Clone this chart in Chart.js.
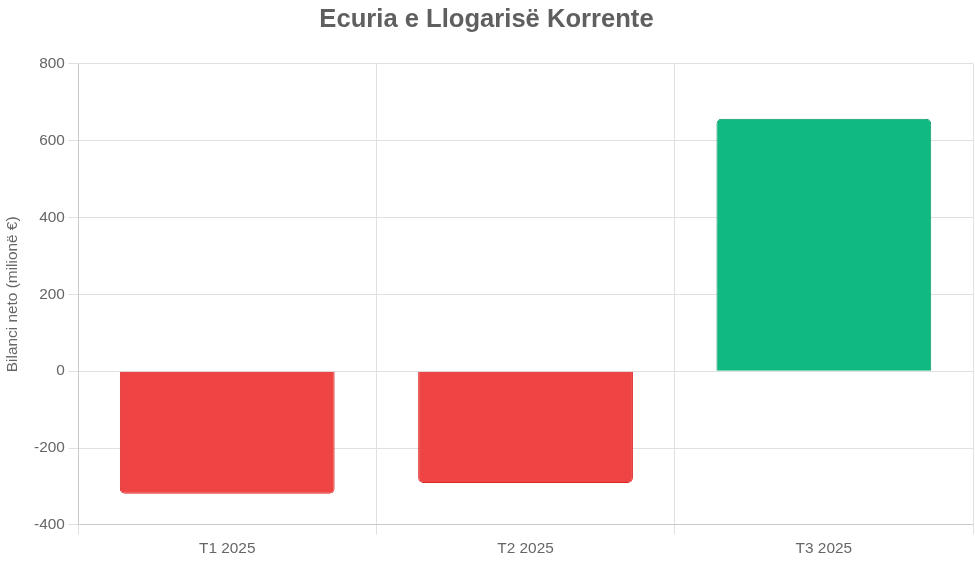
<!DOCTYPE html>
<html>
<head>
<meta charset="utf-8">
<script src="https://cdn.jsdelivr.net/npm/chart.js@4/dist/chart.umd.min.js"></script>
<style>
  html, body { margin: 0; padding: 0; background: #fff; }
  #wrap { width: 975px; height: 563px; }
</style>
</head>
<body>
<div id="wrap"><canvas id="chart"></canvas></div>
<script>
// quarters and net current account balance (million €)
var quarters = ['T1 2025', 'T2 2025', 'T3 2025'];
var balance = [-319, -291, 657];

var barColors = balance.map(function(v) { return v < 0 ? '#ef4444' : '#10b981'; });
var borderColors = balance.map(function(v) { return v < 0 ? '#dc2626' : '#059669'; });

Chart.defaults.font.family = '"Liberation Sans", Arial, sans-serif';

var ctx = document.getElementById('chart').getContext('2d');
var chart = new Chart(ctx, {
  type: 'bar',
  data: {
    labels: quarters,
    datasets: [{
      label: 'Bilanci neto',
      data: balance,
      backgroundColor: barColors,
      borderColor: borderColors,
      borderWidth: 1,
      borderRadius: 5
    }]
  },
  options: {
    responsive: true,
    maintainAspectRatio: false,
    animation: false,
    layout: { padding: { left: 0, right: 2, bottom: 0 } },
    plugins: {
      legend: { display: false },
      title: {
        display: true,
        text: 'Ecuria e Llogarisë Korrente',
        color: '#5f5f5f',
        font: { size: 25.6, weight: 'bold' },
        padding: { top: 5, bottom: 28 }
      }
    },
    scales: {
      x: {
        grid: { color: '#e0e0e0', tickLength: 9.6 },
        ticks: { color: '#666', padding: 5, font: { size: 15.4 } }
      },
      y: {
        min: -400,
        max: 800,
        ticks: { stepSize: 200, color: '#666', padding: 3.6, font: { size: 15.4 } },
        grid: { color: '#e0e0e0', tickLength: 9.6 },
        title: {
          display: true,
          text: 'Bilanci neto (milionë €)',
          color: '#666',
          padding: { top: 4, bottom: 8 },
          font: { size: 15.4 }
        }
      }
    }
  }
});
</script>
</body>
</html>
